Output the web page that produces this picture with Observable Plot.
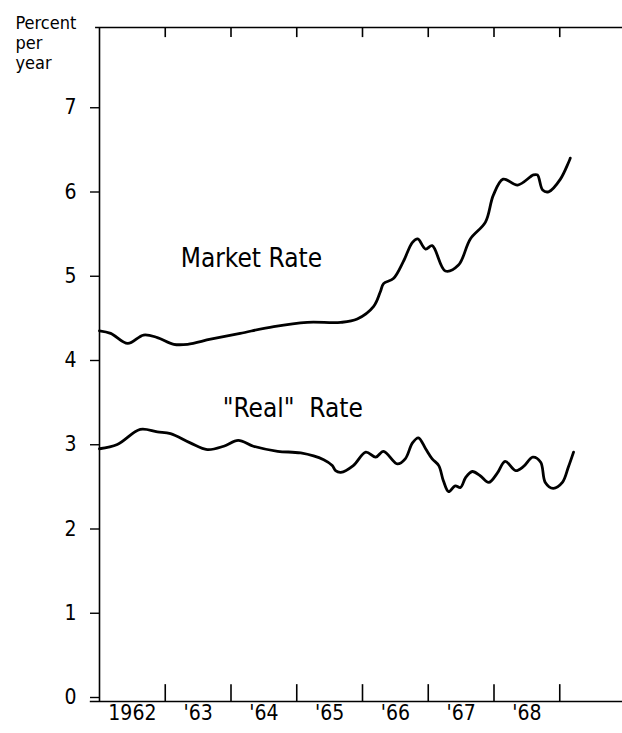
<!DOCTYPE html>
<html><head><meta charset="utf-8">
<script src="https://cdn.jsdelivr.net/npm/d3@7"></script>
<script src="https://cdn.jsdelivr.net/npm/@observablehq/plot@0.6"></script>
<style>body{margin:0;background:#fff} #chart{width:622px;height:733px}</style>
</head><body><div id="chart"></div>
<script>
const marketYears = [1962.0, 1962.17, 1962.43, 1962.67, 1962.88, 1963.13, 1963.34, 1963.69, 1964.14, 1964.65, 1965.16, 1965.67, 1965.92, 1966.17, 1966.27, 1966.32, 1966.47, 1966.62, 1966.76, 1966.84, 1966.96, 1967.06, 1967.26, 1967.46, 1967.64, 1967.87, 1967.99, 1968.14, 1968.36, 1968.60, 1968.66, 1968.74, 1968.83, 1969.01, 1969.16];
const marketRate  = [4.40, 4.37, 4.25, 4.35, 4.32, 4.24, 4.24, 4.30, 4.37, 4.45, 4.50, 4.50, 4.54, 4.69, 4.86, 4.96, 5.02, 5.22, 5.45, 5.49, 5.37, 5.41, 5.11, 5.18, 5.49, 5.69, 6.01, 6.20, 6.13, 6.25, 6.25, 6.07, 6.05, 6.20, 6.45];
const realYears = [1962.0, 1962.27, 1962.62, 1962.88, 1963.08, 1963.38, 1963.64, 1963.89, 1964.11, 1964.34, 1964.71, 1965.06, 1965.41, 1965.54, 1965.59, 1965.67, 1965.86, 1966.05, 1966.20, 1966.32, 1966.53, 1966.65, 1966.76, 1966.85, 1966.96, 1967.06, 1967.16, 1967.23, 1967.31, 1967.41, 1967.49, 1967.57, 1967.67, 1967.79, 1967.92, 1968.05, 1968.17, 1968.33, 1968.45, 1968.59, 1968.71, 1968.78, 1968.90, 1969.04, 1969.13, 1969.21];
const realRate  = [3.00, 3.05, 3.23, 3.20, 3.18, 3.07, 2.99, 3.03, 3.10, 3.03, 2.97, 2.95, 2.87, 2.80, 2.74, 2.72, 2.80, 2.96, 2.90, 2.97, 2.82, 2.88, 3.07, 3.13, 3.00, 2.88, 2.80, 2.62, 2.49, 2.56, 2.54, 2.66, 2.73, 2.68, 2.60, 2.71, 2.85, 2.74, 2.79, 2.90, 2.84, 2.60, 2.53, 2.60, 2.78, 2.96];
const yTicks = [0, 1, 2, 3, 4, 5, 6, 7];
const yearTicks = [1963, 1964, 1965, 1966, 1967, 1968, 1969];
const yearLabels = ["1962", "'63", "'64", "'65", "'66", "'67", "'68"];
const yearLabelPos = [1962.5, 1963.5, 1964.5, 1965.5, 1966.5, 1967.5, 1968.5];
const seriesLabels = ["Market Rate", "\"Real\"  Rate"];
const seriesLabelX = [1964.31, 1964.94];
const seriesLabelY = [5.26, 3.48];
const unitLabel = "Percent\nper\nyear";

const font = "'DejaVu Sans Condensed', 'Liberation Sans Narrow', 'DejaVu Sans', sans-serif";
const market = marketYears.map((x, i) => ({x, y: marketRate[i]}));
const real = realYears.map((x, i) => ({x, y: realRate[i]}));

const chart = Plot.plot({
  width: 622, height: 733,
  marginLeft: 99, marginRight: -3, marginTop: 27, marginBottom: 32,
  style: {fontFamily: font, color: "#000", background: "#fff", overflow: "visible"},
  x: {domain: [1962, 1970], axis: null},
  y: {domain: [0, 8], axis: null},
  marks: [
    Plot.ruleY([8], {x1: 1961.94, x2: 1970, strokeWidth: 1.6}),
    Plot.ruleY([0], {x1: 1961.86, x2: 1970, strokeWidth: 1.6}),
    Plot.ruleX([1962], {y1: 0, y2: 8, strokeWidth: 1.6}),
    Plot.ruleX(yearTicks, {y1: 0, y2: 0.2, strokeWidth: 1.6}),
    Plot.ruleX(yearTicks, {y1: 8, y2: 7.88, strokeWidth: 1.6}),
    Plot.axisY(yTicks, {tickSize: 9, tickPadding: 14, fontSize: 21, dy: -4, label: null, tickFormat: "d", strokeWidth: 1.4}),
    Plot.text(yearLabels, {x: (d, i) => yearLabelPos[i], y: 0, dy: 12, text: d => d, fontSize: 21, lineAnchor: "middle"}),
    Plot.line(market, {x: "x", y: "y", curve: "catmull-rom", strokeWidth: 2.8}),
    Plot.line(real, {x: "x", y: "y", curve: "catmull-rom", strokeWidth: 2.8}),
    Plot.text(seriesLabels, {x: (d, i) => seriesLabelX[i], y: (d, i) => seriesLabelY[i], text: d => d, fontSize: 26}),
    Plot.text([unitLabel], {x: 1962, y: 8, dx: -84, dy: -13, text: d => d, textAnchor: "start", lineAnchor: "top", fontSize: 18, lineHeight: 1.12})
  ]
});
document.getElementById("chart").appendChild(chart);
</script>
</body></html>
